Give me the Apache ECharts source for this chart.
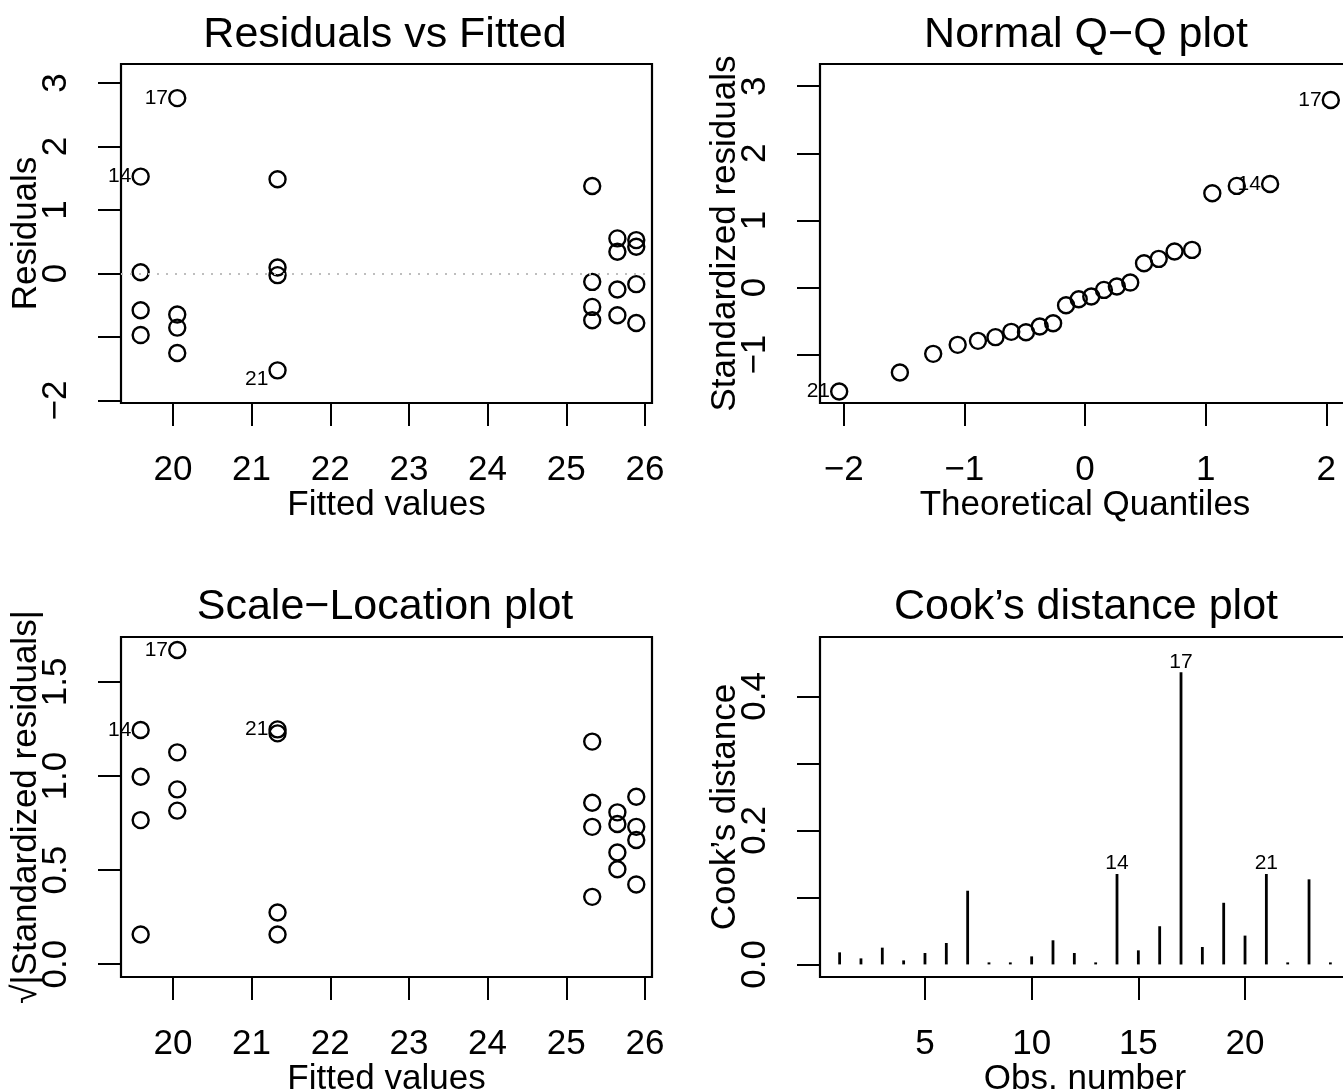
<!DOCTYPE html>
<html><head><meta charset="utf-8">
<script src="https://cdn.jsdelivr.net/npm/echarts@6/dist/echarts.min.js"></script>
<style>html,body{margin:0;padding:0;background:#fff}#c{width:1343px;height:1091px}</style>
</head><body><div id="c"></div>
<script>
// ---------- data ----------
const fittedValues = [19.59,19.59,19.59,19.59, 20.055,20.055,20.055,20.055, 21.33,21.33,21.33,21.33,
  25.33,25.33,25.33,25.33, 25.65,25.65,25.65,25.65, 25.89,25.89,25.89,25.89];
const residuals = [1.526,0.02,-0.58,-0.97, 2.763,-0.647,-0.853,-1.253, 1.484,0.095,-0.026,-1.526,
  1.379,-0.132,-0.526,-0.737, 0.553,0.342,-0.253,-0.658, 0.526,0.421,-0.168,-0.779];
const sqrtAbsStdResid = [1.245,0.158,0.766,0.996, 1.670,0.816,0.929,1.126, 1.227,0.275,0.158,1.248,
  1.183,0.358,0.730,0.858, 0.745,0.594,0.505,0.807, 0.730,0.660,0.424,0.890];
const pointLabelIdx = [0, 4, 11];
const pointLabelText = ['14', '17', '21'];

const theoreticalQuantiles = [-2.037,-1.534,-1.258,-1.055,-0.887,-0.742,-0.611,-0.489,-0.375,-0.264,-0.157,-0.052,
  0.052,0.157,0.264,0.375,0.489,0.611,0.742,0.887,1.055,1.258,1.534,2.037];
const sortedStdResid = [-1.548,-1.266,-0.988,-0.854,-0.794,-0.739,-0.660,-0.665,-0.581,-0.531,-0.263,-0.174,
  -0.134,-0.035,0.015,0.074,0.362,0.427,0.536,0.561,1.404,1.514,1.543,2.794];
const qqLabelIdx = [0, 22, 23];
const qqLabelText = ['21', '14', '17'];

const obsNumbers = [1,2,3,4,5,6,7,8,9,10,11,12,13,14,15,16,17,18,19,20,21,22,23,24];
const cooksDistance = [0.018,0.009,0.025,0.006,0.017,0.032,0.110,0.003,0.003,0.012,0.036,0.017,
  0.003,0.135,0.021,0.057,0.436,0.026,0.092,0.043,0.135,0.003,0.127,0.003];
const cookLabelObs = [14, 17, 21];

const fittedTicks = [20,21,22,23,24,25,26];
const residTicks = [-2,-1,0,1,2,3];
const residTickLabels = [-2,0,1,2,3];
const qqXTicks = [-2,-1,0,1,2];
const qqYTicks = [-1,0,1,2,3];
const slTicks = [0,0.5,1,1.5];
const cookYTicks = [0,0.1,0.2,0.3,0.4];
const cookYTickLabels = [0,0.2,0.4];
const cookXTicks = [5,10,15,20];

// ---------- chart ----------
const FONT = '"Liberation Sans", Arial, sans-serif';
const BASE = 35, TITLE = 43, IDF = 21;
const minus = v => (v < 0 ? '\u2212' + Math.abs(v) : String(v));
const dec1 = v => (v < 0 ? '\u2212' : '') + Math.abs(v).toFixed(1);

function xAx(gi, min, max, ticks, labels, fmt, name) {
  return {
    type: 'value', gridIndex: gi, min, max, splitLine: {show: false},
    axisLine: {show: false, onZero: false},
    axisTick: {show: true, length: 23, inside: false, customValues: ticks, lineStyle: {color: '#000', width: 2}},
    axisLabel: {customValues: labels, formatter: fmt, fontSize: BASE, fontFamily: FONT, color: '#000', margin: 50, hideOverlap: false},
    name, nameLocation: 'middle', nameGap: 85, nameMoveOverlap: false,
    nameTextStyle: {fontSize: BASE, fontFamily: FONT, color: '#000'}
  };
}
function yAx(gi, min, max, ticks, labels, fmt, name) {
  return {
    type: 'value', gridIndex: gi, min, max, splitLine: {show: false},
    axisLine: {show: false, onZero: false},
    axisTick: {show: true, length: 23, inside: false, customValues: ticks, lineStyle: {color: '#000', width: 2}},
    axisLabel: {customValues: labels, formatter: fmt, rotate: 90, fontSize: BASE, fontFamily: FONT, color: '#000', margin: 47, hideOverlap: false},
    name, nameLocation: 'middle', nameGap: 77, nameRotate: 90, nameMoveOverlap: false,
    nameTextStyle: {fontSize: BASE, fontFamily: FONT, color: '#000'}
  };
}
const gridStyle = {show: true, borderColor: '#000', borderWidth: 2.2, backgroundColor: 'transparent',
  containLabel: false, outerBoundsMode: 'none'};
const circle = {symbol: 'circle', symbolSize: 16,
  itemStyle: {color: 'transparent', borderColor: '#000', borderWidth: 2.4, opacity: 1}};
const idLabelStyle = {fontSize: IDF, fontFamily: FONT, color: '#000', opacity: 1};

function pts(xs, ys, lblIdx, lblText, offsets) {
  return xs.map((x, i) => {
    const k = lblIdx.indexOf(i);
    const d = {value: [x, ys[i]]};
    if (k >= 0) d.label = Object.assign({show: true, position: 'left', distance: 0, formatter: lblText[k], offset: (offsets && offsets[k]) || [0, 0]}, idLabelStyle);
    return d;
  });
}
const titleStyle = {fontSize: TITLE, fontWeight: 'normal', color: '#000', fontFamily: FONT};

const option = {
  animation: false,
  backgroundColor: '#fff',
  textStyle: {fontFamily: FONT},
  title: [
    {text: 'Residuals vs Fitted', left: 380, top: 9, textAlign: 'center', textStyle: titleStyle},
    {text: 'Normal Q\u2212Q plot', left: 1081, top: 9, textAlign: 'center', textStyle: titleStyle},
    {text: 'Scale\u2212Location plot', left: 380, top: 581, textAlign: 'center', textStyle: titleStyle},
    {text: 'Cook\u2019s distance plot', left: 1081, top: 581, textAlign: 'center', textStyle: titleStyle}
  ],
  grid: [
    Object.assign({left: 121, top: 64, width: 531, height: 339}, gridStyle),
    Object.assign({left: 820, top: 64, width: 530, height: 339}, gridStyle),
    Object.assign({left: 121, top: 637, width: 531, height: 340}, gridStyle),
    Object.assign({left: 820, top: 637, width: 530, height: 340}, gridStyle)
  ],
  xAxis: [
    xAx(0, 19.34, 26.09, fittedTicks, fittedTicks, minus, 'Fitted values'),
    xAx(1, -2.196, 2.196, qqXTicks, qqXTicks, minus, 'Theoretical Quantiles'),
    xAx(2, 19.34, 26.09, fittedTicks, fittedTicks, minus, 'Fitted values'),
    xAx(3, 0.08, 24.92, cookXTicks, cookXTicks, minus, 'Obs. number')
  ],
  yAxis: [
    yAx(0, -2.04, 3.30, residTicks, residTickLabels, minus, 'Residuals'),
    yAx(1, -1.72, 3.33, qqYTicks, qqYTicks, minus, 'Standardized residuals'),
    yAx(2, -0.068, 1.739, slTicks, slTicks, dec1, '\u221A|Standardized residuals|'),
    yAx(3, -0.0188, 0.4888, cookYTicks, cookYTickLabels, dec1, 'Cook\u2019s distance')
  ],
  series: [
    Object.assign({type: 'scatter', xAxisIndex: 0, yAxisIndex: 0,
      data: pts(fittedValues, residuals, pointLabelIdx, pointLabelText, [[0,0],[0,0],[0,9]]),
      markLine: {silent: true, symbol: ['none', 'none'], label: {show: false},
        lineStyle: {type: [2, 7], color: '#bebebe', width: 2, opacity: 1}, data: [{yAxis: 0}]}
    }, circle),
    Object.assign({type: 'scatter', xAxisIndex: 1, yAxisIndex: 1,
      data: pts(theoreticalQuantiles, sortedStdResid, qqLabelIdx, qqLabelText)}, circle),
    Object.assign({type: 'scatter', xAxisIndex: 2, yAxisIndex: 2,
      data: pts(fittedValues, sqrtAbsStdResid, pointLabelIdx, pointLabelText)}, circle),
    {type: 'bar', xAxisIndex: 3, yAxisIndex: 3, barWidth: 2.8, itemStyle: {color: '#000'},
      data: obsNumbers.map((o, i) => {
        const d = {value: [o, cooksDistance[i]]};
        if (cookLabelObs.indexOf(o) >= 0) d.label = Object.assign({show: true, position: 'top', distance: 0, formatter: String(o)}, idLabelStyle);
        return d;
      })}
  ]
};
const chart = echarts.init(document.getElementById('c'), null, {renderer: 'canvas'});
chart.setOption(option);
</script>
</body></html>
